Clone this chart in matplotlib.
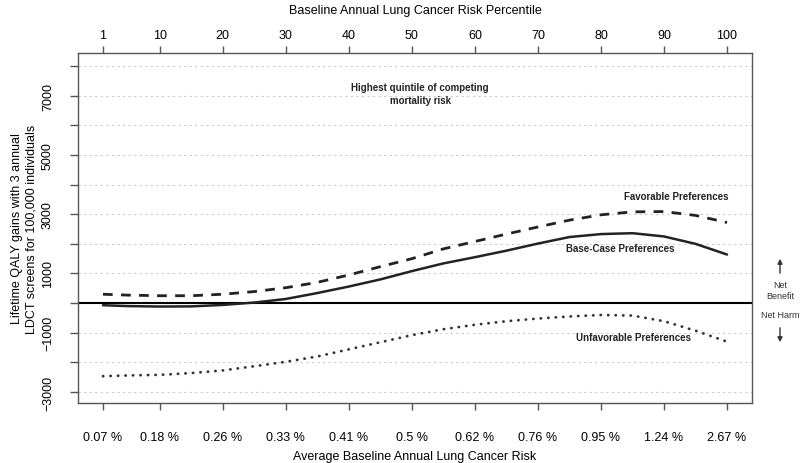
import matplotlib
matplotlib.use('Agg')
import matplotlib.pyplot as plt

plt.rcParams['font.family'] = ['Liberation Sans', 'DejaVu Sans']

AXIS_COLOR = '#555555'
GRID_COLOR = '#cccccc'

# percentile positions and labels
tick_pct = [1, 10, 20, 30, 40, 50, 60, 70, 80, 90, 100]
risk_labels = ['0.07 %', '0.18 %', '0.26 %', '0.33 %', '0.41 %', '0.5 %',
               '0.62 %', '0.76 %', '0.95 %', '1.24 %', '2.67 %']

# curves, every 5 percentiles
pct = [1, 5, 10, 15, 20, 25, 30, 35, 40, 45, 50, 55, 60, 65, 70, 75, 80, 85, 90, 95, 100]
base_case = [-70, -100, -115, -110, -60, 20, 140, 340, 560, 800, 1080, 1340, 1550,
             1770, 2010, 2230, 2330, 2360, 2250, 2000, 1640]
favorable = [300, 270, 250, 250, 300, 390, 520, 700, 950, 1230, 1500, 1830, 2080,
             2330, 2570, 2800, 2980, 3080, 3090, 2960, 2720]
unfavorable = [-2465, -2440, -2420, -2360, -2270, -2130, -1980, -1800, -1560, -1320,
               -1080, -880, -730, -610, -520, -450, -400, -420, -610, -930, -1300]

y_ticks = list(range(-3000, 8001, 1000))
y_labels = [str(v) if v % 2000 else '' for v in y_ticks]
y_labels = [l.replace('-', '\u2212') for l in y_labels]

fig = plt.figure(figsize=(8, 4.64), dpi=100)
ax = fig.add_axes([0.0975, 0.1293, 0.8425, 0.7543])
ax.set_xlim(-2.96, 103.96)
ax.set_ylim(-3370, 8440)

# grid lines
for v in y_ticks:
    if v != 0:
        ax.axhline(v, color=GRID_COLOR, linestyle=(0, (2, 3)), linewidth=0.8, zorder=0)
ax.axhline(0, color='black', linewidth=1.5, zorder=2)

ax.plot(pct, base_case, color='#222222', linewidth=1.8, solid_capstyle='round', zorder=3)
ax.plot(pct, favorable, color='#222222', linewidth=2.0, linestyle=(0, (3.5, 3)), zorder=3)
ax.plot(pct, unfavorable, color='#333333', linewidth=2.0, linestyle=(0, (0.1, 2.6)),
        dash_capstyle='round', zorder=3)

# curve labels
lab = dict(fontsize=7, fontweight='bold', ha='center', va='center', color='#222222')
ax.text(51.3, 7070, 'Highest quintile of competing\nmortality risk', linespacing=1.3, **lab)
ax.text(91.9, 3630, 'Favorable Preferences', **lab)
ax.text(83.0, 1850, 'Base-Case Preferences', **lab)
ax.text(85.1, -1150, 'Unfavorable Preferences', **lab)

for s in ax.spines.values():
    s.set_color(AXIS_COLOR)
    s.set_linewidth(1.0)

ax.set_xticks(tick_pct)
ax.set_xticklabels(risk_labels, fontsize=9)
ax.set_yticks(y_ticks)
ax.set_yticklabels(y_labels, fontsize=9, rotation=90, va='center')
ax.tick_params(axis='x', direction='out', length=5, width=1, color=AXIS_COLOR, pad=15)
ax.tick_params(axis='y', direction='out', length=5.8, width=1, color=AXIS_COLOR, pad=11.5)
ax.set_xlabel('Average Baseline Annual Lung Cancer Risk', fontsize=9, labelpad=5)
ax.set_ylabel('Lifetime QALY gains with 3 annual\nLDCT screens for 100,000 individuals',
              fontsize=9, labelpad=3.5)

top = ax.twiny()
top.set_xlim(ax.get_xlim())
top.set_xticks(tick_pct)
top.set_xticklabels([str(p) for p in tick_pct], fontsize=9)
top.tick_params(axis='x', direction='out', length=5, width=1, color=AXIS_COLOR, pad=4)
top.set_xlabel('Baseline Annual Lung Cancer Risk Percentile', fontsize=9, labelpad=11.5)
for s in top.spines.values():
    s.set_visible(False)

# net benefit / harm marks on the right
fig.text(780 / 800, 1 - 291 / 464, 'Net\nBenefit', fontsize=6.5, ha='center', va='center',
         color='#333333', linespacing=1.3)
fig.text(780 / 800, 1 - 315 / 464, 'Net Harm', fontsize=6.5, ha='center', va='center',
         color='#333333')
ax.annotate('', xy=(780 / 800, 1 - 257 / 464), xytext=(780 / 800, 1 - 277 / 464),
            xycoords='figure fraction',
            arrowprops=dict(arrowstyle='-|>', color='#333333', lw=1, mutation_scale=7))
ax.annotate('', xy=(780 / 800, 1 - 346 / 464), xytext=(780 / 800, 1 - 326 / 464),
            xycoords='figure fraction',
            arrowprops=dict(arrowstyle='-|>', color='#333333', lw=1, mutation_scale=7))

fig.savefig('out.png', dpi=100)
